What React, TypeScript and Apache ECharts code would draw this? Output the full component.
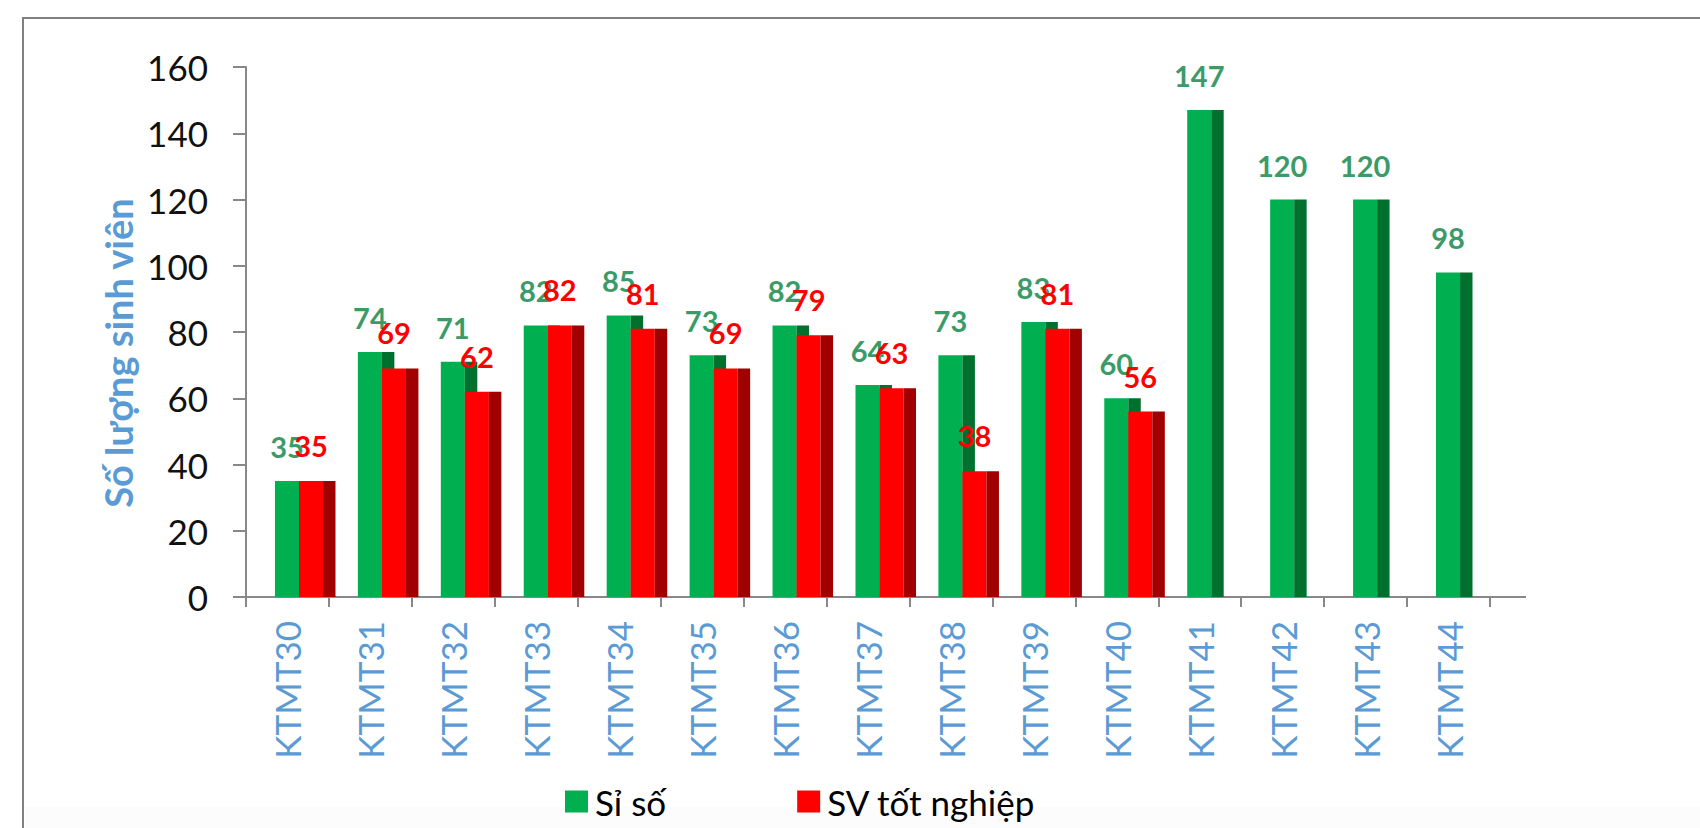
import React, { useEffect, useRef } from "react";
import * as echarts from "echarts";

const categories = ["KTMT30","KTMT31","KTMT32","KTMT33","KTMT34","KTMT35","KTMT36","KTMT37","KTMT38","KTMT39","KTMT40","KTMT41","KTMT42","KTMT43","KTMT44"];
const siSo = [35, 74, 71, 82, 85, 73, 82, 64, 73, 83, 60, 147, 120, 120, 98];
const totNghiep: (number | null)[] = [35, 69, 62, 82, 81, 69, 79, 63, 38, 81, 56, null, null, null, null];
const yTicks = { min: 0, max: 160, interval: 20 };
const seriesNames = ["Sỉ số", "SV tốt nghiệp"];
const yTitle = "Số lượng sinh viên";

const FONT = "Lato";

function make3DRender(offsetFrac: number, front: string, side: string, labelColor: string, gap: number, zText: number) {
  return (params: any, api: any) => {
    const v = api.value(1);
    if (v == null || isNaN(v)) return;
    const idx = api.value(0);
    const base = api.coord([idx, 0]);
    const top = api.coord([idx, v]);
    const band = api.size([1, 0])[0];
    const frontL = base[0] + band * offsetFrac;
    const frontW = band * 0.29;
    const sideW = band * 0.15;
    const h = base[1] - top[1];
    return {
      type: "group",
      children: [
        { type: "rect", shape: { x: frontL, y: top[1], width: frontW, height: h }, style: { fill: front } },
        { type: "rect", shape: { x: frontL + frontW, y: top[1], width: sideW, height: h }, style: { fill: side } },
        {
          type: "text",
          x: frontL + frontW / 2,
          y: top[1] - gap,
          z2: zText,
          style: { text: String(v), fill: labelColor, font: `bold 29px ${FONT}`, align: "center", verticalAlign: "bottom" },
        },
      ],
    };
  };
}

export default function App() {
  const ref = useRef<HTMLDivElement>(null);
  useEffect(() => {
    document.body.style.margin = "0";
    if (!ref.current) return;
    const chart = echarts.init(ref.current, null, { renderer: "svg" });
    const gridLeft = 246;
    const gridRight = 210;
    const option: any = {
      animation: false,
      backgroundColor: "#ffffff",
      grid: { left: gridLeft, right: gridRight, top: 67, bottom: 231, containLabel: false },
      legend: {
        left: 560,
        top: 779,
        itemWidth: 23,
        itemHeight: 22,
        itemGap: 131,
        icon: "rect",
        textStyle: { fontFamily: FONT, fontSize: 35, color: "#000", padding: [0, 0, 0, 2] },
        data: seriesNames,
      },
      xAxis: {
        type: "category",
        data: categories,
        axisLine: { lineStyle: { color: "#888888", width: 2 } },
        axisTick: { show: true, length: 10, lineStyle: { color: "#888888", width: 2 } },
        axisLabel: { rotate: 90, margin: 24, fontFamily: FONT, fontSize: 35, color: "#5B9BD5" },
        splitLine: { show: false },
      },
      yAxis: {
        type: "value",
        min: yTicks.min,
        max: yTicks.max,
        interval: yTicks.interval,
        axisLine: { show: true, lineStyle: { color: "#888888", width: 2 } },
        axisTick: { show: true, length: 13, lineStyle: { color: "#888888", width: 2 } },
        axisLabel: { margin: 38, fontFamily: FONT, fontSize: 35, color: "#111111" },
        splitLine: { show: false },
      },
      graphic: [
        { type: "rect", shape: { x: 25, y: 807, width: 1675, height: 21 }, style: { fill: "#fcfcfc" }, silent: true, z: -1 },
        { type: "rect", shape: { x: 23, y: 18, width: 1700, height: 900 }, style: { fill: "none", stroke: "#808080", lineWidth: 2 }, silent: true },
        { type: "line", shape: { x1: 1700 - gridRight, y1: 597, x2: 1700 - gridRight + 36, y2: 597 }, style: { stroke: "#888888", lineWidth: 2 }, silent: true },
        {
          type: "text",
          x: 118,
          y: 353,
          rotation: Math.PI / 2,
          style: { text: yTitle, fill: "#5B9BD5", font: `bold 38px ${FONT}`, align: "center", verticalAlign: "middle" },
        },
      ],
      series: [
        {
          name: seriesNames[0],
          type: "custom",
          itemStyle: { color: "#00B050" },
          encode: { x: 0, y: 1 },
          renderItem: make3DRender(-0.151, "#00B050", "#00702F", "#3B9B68", 20, 100),
          data: siSo.map((v, i) => [i, v]),
        },
        {
          name: seriesNames[1],
          type: "custom",
          itemStyle: { color: "#FF0000" },
          encode: { x: 0, y: 1 },
          renderItem: make3DRender(0.139, "#FF0000", "#A00000", "#FF0000", 21, 101),
          data: totNghiep.map((v, i) => [i, v]).filter((d) => d[1] != null),
        },
      ],
    };
    chart.setOption(option);
    return () => chart.dispose();
  }, []);
  return <div ref={ref} style={{ width: 1700, height: 828 }} />;
}
